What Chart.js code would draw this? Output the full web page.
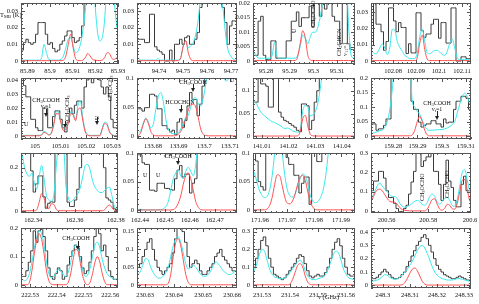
<!DOCTYPE html>
<html><head><meta charset="utf-8">
<script src="https://cdn.jsdelivr.net/npm/chart.js@4.4.1/dist/chart.umd.min.js"></script>
<style>
body{margin:0;background:#fff;width:479px;height:304px;position:relative;overflow:hidden;font-family:"Liberation Serif","DejaVu Serif",serif;color:#111}
canvas{position:absolute}
.t{position:absolute;font-size:6px;line-height:6px;white-space:nowrap}
.r{transform-origin:0 0}
.ar{position:absolute;border-left:1px solid #222;width:0}
.ah{position:absolute;width:0;height:0;border-left:2px solid transparent;border-right:2px solid transparent;border-top:4px solid #222}
sub{font-size:4.5px;vertical-align:-1px;line-height:0}
</style></head><body>
<script>
// ---------- data ----------
const xRange1=[85.8872,85.93],  xTicks1=[85.89,85.9,85.91,85.92,85.93],   yRange1=[-0.0018,0.0347], yTicks1=[0,0.01,0.02,0.03];
const xRange2=[94.7308,94.7725],xTicks2=[94.74,94.75,94.76,94.77],       yRange2=[-0.0018,0.0347], yTicks2=[0,0.01,0.02,0.03];
const xRange3=[95.2745,95.3176],xTicks3=[95.28,95.29,95.3,95.31],        yRange3=[-0.001,0.0201],  yTicks3=[0,0.005,0.01,0.015,0.02];
const xRange4=[102.0704,102.1139],xTicks4=[102.08,102.09,102.1,102.11],  yRange4=[-0.0018,0.0356], yTicks4=[0,0.01,0.02,0.03];
const xRange5=[104.9945,105.0324],xTicks5=[105,105.01,105.02,105.03],    yRange5=[-0.002,0.0414],  yTicks5=[0,0.01,0.02,0.03,0.04];
const xRange6=[133.6738,133.7127],xTicks6=[133.68,133.69,133.7,133.71],  yRange6=[-0.005,0.1],     yTicks6=[0,0.05,0.1];
const xRange7=[141.0067,141.0449],xTicks7=[141.01,141.02,141.03,141.04], yRange7=[-0.006,0.128],   yTicks7=[0,0.05,0.1];
const xRange8=[159.2708,159.3121],xTicks8=[159.28,159.29,159.3,159.31],  yRange8=[-0.01,0.2],      yTicks8=[0,0.05,0.1,0.15,0.2];
const xRange9=[162.3341,162.381],xTicks9=[162.34,162.36,162.38],         yRange9=[-0.01,0.268],    yTicks9=[0,0.1,0.2];
const xRange10=[162.4388,162.4789],xTicks10=[162.44,162.45,162.46,162.47],yRange10=[-0.005,0.1],   yTicks10=[0,0.05,0.1];
const xRange11=[171.9574,171.9952],xTicks11=[171.96,171.97,171.98,171.99],yRange11=[-0.005,0.1],   yTicks11=[0,0.05,0.1];
const xRange12=[200.5525,200.6005],xTicks12=[200.56,200.58,200.6],       yRange12=[-0.01,0.3],     yTicks12=[0,0.1,0.2,0.3];
const xRange13=[222.5266,222.5629],xTicks13=[222.53,222.54,222.55,222.56],yRange13=[-0.0105,0.2],  yTicks13=[0,0.1,0.2];
const xRange14=[230.6272,230.6617],xTicks14=[230.63,230.64,230.65,230.66],yRange14=[-0.008,0.16],  yTicks14=[0,0.05,0.1,0.15];
const xRange15=[231.5268,231.5632],xTicks15=[231.53,231.54,231.55,231.56],yRange15=[-0.017,0.32],  yTicks15=[0,0.1,0.2,0.3];
const xRange16=[248.2956,248.3326],xTicks16=[248.3,248.31,248.32,248.33], yRange16=[-0.02,0.43],   yTicks16=[0,0.1,0.2,0.3,0.4];

// observed spectra (40 channels per window)
const obs1=[.0065,.011,.013,.011,.010,.011,.016,.023,.023,.023,.016,.010,.011,.0075,.0055,.0065,.010,.012,.015,.018,.018,.014,.011,.012,.014,.021,.05,.05,.05,.05,.05,.05,.05,.05,.05,.05,.05,.05,.05,.05];
const cyan1=[.0005,.0005,.0005,.0005,.0005,.0005,.0005,.0005,.002,.010,.005,.0008,.0005,.0005,.0005,.0005,.001,.003,.008,.013,.014,.009,.005,.006,.010,.018,.03,.05,.08,.06,.035,.018,.012,.014,.025,.05,.08,.05,.035,.02];
const red1=[.0002,.0002,.0002,.0002,.0002,.0002,.0002,.0002,.0002,.0002,.0002,.0002,.0002,.0002,.0002,.0002,.0002,.0005,.003,.010,.016,.008,.0015,.0003,.0002,.0005,.002,.0045,.003,.001,.0005,.0003,.0003,.0006,.002,.005,.0045,.0015,.001,.002];

const obs2=[.013,.013,.013,.011,.011,.028,.028,.0085,.0065,.0055,.004,0,0,.0065,0,.010,.010,.013,.010,.014,.015,.010,.010,.013,.017,.032,.05,.05,.05,.05,.05,.05,.05,.05,.032,.023,.010,.021,.024,.024];
const cyan2=[.002,.0005,.0005,.0005,.0005,.0005,.0005,.0005,.0015,.0005,.0005,.0005,.0005,.0005,.0005,.0005,.0005,.002,.009,.012,.008,.009,.011,.016,.025,.04,.06,.06,.06,.06,.06,.06,.06,.04,.03,.015,.006,.003,.001,.0005];
const red2=[.0002,.0002,.0002,.0002,.0002,.0002,.0002,.0002,.0002,.0002,.0002,.0002,.0002,.0002,.0002,.0002,.0002,.002,.009,.0122,.005,.001,.0002,.0002,.0002,.0002,.0002,.0002,.0002,.0002,.0002,.0002,.0002,.0002,.0002,.0002,.0002,.0002,.0002,.0002];

const obs3=[.002,.002,.0138,.0155,.002,.0005,.0005,.007,.007,.001,.001,.001,.001,.007,.007,.0138,.0138,.017,.012,.015,.015,.015,.019,.012,.025,.025,.0155,.025,.018,.025,.025,.0155,.0138,.0138,.006,.025,.025,.006,.004,.004];
const cyan3=[.003,.0015,.001,.001,.001,.001,.001,.002,.0065,.0015,.001,.001,.001,.001,.001,.001,.001,.002,.005,.009,.008,.006,.0085,.010,.010,.012,.016,.022,.03,.03,.03,.022,.02,.025,.03,.03,.03,.012,.002,.001];
const red3=[.0002,.0002,.0002,.0002,.0002,.0002,.0002,.0002,.0002,.0002,.0002,.0002,.0002,.0002,.0002,.0002,.0002,.0015,.006,.0105,.008,.002,.0004,.0002,.0002,.0002,.0002,.0002,.0002,.0002,.0002,.0002,.0002,.0002,.0002,.0002,.0002,.0002,.0002,.0002];

const obs4=[.0096,.05,.0226,.0226,.018,.0066,.012,.0326,.0326,.0246,.018,.0236,.0206,.0206,.0046,.0106,.005,.005,.0296,.0296,.0186,.0146,.0166,.0166,.0226,.0256,.0256,.014,.0236,.0236,.011,.011,.0326,.0326,0,0,.0026,.0026,.0015,.0015];
const cyan4=[.006,.0045,.005,.008,.0105,.008,.004,.008,.0195,.019,.012,.0085,.006,.0035,.0025,.0015,.0015,.0015,.005,.015,.0195,.012,.005,.0045,.0055,.0065,.0066,.0055,.004,.0035,.006,.011,.0135,.008,.002,.001,.001,.001,.001,.001];
const red4=[.0003,.0003,.0003,.0003,.0003,.0003,.0003,.0003,.0003,.0003,.0003,.0003,.0003,.0003,.0003,.0003,.0003,.0003,.002,.011,.016,.007,.0012,.0003,.0003,.0003,.0003,.0003,.0003,.0003,.0003,.0003,.0003,.0003,.0003,.0003,.0003,.0003,.0003,.0003];

const obs5=[.05,.036,.028,.028,.012,.012,.006,.004,.004,.02,.02,.006,.006,.014,.018,.018,.012,.006,.003,.010,.020,.016,.022,.025,.025,.02,.035,.04,.045,.038,.05,.05,.04,.035,.03,.035,.028,.012,.006,.006];
const cyan5=[.0006,.0006,.0006,.0006,.0006,.0006,.0006,.0006,.0012,.0035,.0025,.0012,.0025,.009,.0175,.017,.010,.005,.006,.010,.0175,.016,.012,.022,.025,.013,.004,.0012,.0006,.0006,.0006,.0006,.0006,.006,.010,.009,.0035,.0012,.0006,.0006];
const red5=[.0003,.0003,.0003,.0003,.0003,.0003,.0003,.0003,.0008,.0028,.002,.0008,.002,.008,.016,.016,.009,.004,.005,.009,.016,.015,.011,.019,.020,.011,.003,.0008,.0003,.0003,.0003,.0003,.0003,.005,.009,.008,.003,.0008,.0003,.0003];

const obs6=[.047,.047,.043,.049,.049,.072,.072,.069,.047,.047,.018,.018,.012,.007,.01,.003,.024,.03,.015,.027,.052,.075,.063,.063,.035,.055,.086,.15,.15,.15,.15,.15,.15,.15,.15,.15,.15,.15,.15,.15];
const cyan6=[.005,.01,.022,.031,.025,.014,.02,.045,.068,.075,.06,.03,.012,.006,.004,.004,.006,.012,.022,.032,.036,.05,.064,.066,.056,.052,.065,.09,.12,.15,.15,.15,.15,.15,.11,.095,.098,.12,.15,.15];
const red6=[.001,.006,.02,.03,.022,.008,.002,.0005,.0005,.0005,.0005,.0005,.0005,.0005,.0005,.001,.003,.008,.017,.03,.045,.054,.055,.05,.032,.012,.003,.001,.0005,.0005,.0005,.0005,.0005,.0005,.0005,.0005,.0005,.0005,.0005,.0005];

const obs7=[.075,.075,.15,.115,.115,.11,.064,.064,.15,.15,.053,.042,.035,.032,.028,.024,.02,.013,.01,.071,.071,.067,.015,.035,.075,.1,.15,.15,.15,.15,.15,.15,.15,.15,.15,.15,.15,.15,.15,.15];
const cyan7=[.076,.07,.058,.05,.045,.04,.036,.032,.03,.027,.024,.02,.017,.018,.016,.012,.01,.009,.015,.055,.068,.064,.045,.047,.055,.075,.11,.15,.15,.15,.15,.15,.15,.15,.15,.15,.15,.15,.15,.15];
const red7=[.0005,.0005,.0005,.0005,.0005,.0005,.0005,.0005,.0005,.0005,.0005,.0005,.0005,.0005,.0005,.0005,.0005,.001,.01,.038,.046,.022,.004,.001,.0005,.0005,.0005,.0005,.0005,.0005,.0005,.0005,.0005,.0005,.0005,.0005,.0005,.0005,.0005,.0005];

const obs8=[.042,.042,.02,.025,.025,.037,.059,.059,.25,.25,.25,.25,.25,.25,.25,.25,.12,.092,.092,.048,.031,.037,.042,.042,.053,.053,.042,.042,.031,.059,.045,.048,.048,.092,.12,.12,.137,.137,.13,.092];
const cyan8=[.009,.012,.015,.019,.021,.03,.05,.09,.16,.25,.25,.25,.25,.25,.25,.25,.12,.1,.085,.075,.055,.035,.022,.02,.02,.021,.022,.022,.023,.025,.028,.033,.04,.05,.08,.11,.135,.148,.135,.11];
const red8=[.001,.001,.001,.001,.001,.001,.001,.001,.001,.001,.001,.001,.001,.001,.001,.001,.004,.02,.05,.068,.05,.02,.004,.001,.001,.001,.001,.001,.001,.001,.001,.001,.001,.001,.001,.001,.001,.001,.001,.001];

const obs9=[.3,.3,.3,.3,.185,.087,.125,.162,.162,.065,.012,.035,.042,.04,.3,.3,.3,.3,.3,.04,.02,.02,.05,.1,.2,.3,.3,.3,.3,.3,.3,.3,.3,.3,.2,.06,.05,.04,.01,0];
const cyan9=[.26,.2,.17,.16,.175,.13,.1,.16,.21,.15,.07,.05,.045,.07,.2,.3,.3,.3,.12,.06,.042,.05,.065,.08,.11,.16,.21,.215,.19,.14,.11,.095,.085,.085,.095,.105,.11,.07,.02,.008];
const red9=[.0005,.0005,.0005,.0005,.0005,.0005,.005,.04,.08,.06,.015,.01,.033,.03,.008,.0005,.0005,.0005,.0005,.0005,.0005,.0005,.0005,.0005,.0005,.0005,.0005,.0005,.0005,.0005,.0005,.0005,.0005,.0005,.005,.02,.027,.015,.003,.0005];

const obs10=[.097,.097,.083,.08,.08,.035,.035,.033,.047,.047,.047,.038,.038,.036,.035,.055,.07,.078,.058,.063,.063,.03,.047,.055,.12,.12,.12,.12,.12,.12,.12,.12,.12,.12,.12,.12,.12,.12,.12,.12];
const cyan10=[.001,.0015,.001,.0005,.0005,.0005,.0005,.0005,.0005,.0008,.002,.006,.015,.035,.055,.065,.07,.06,.055,.068,.075,.068,.06,.08,.12,.12,.12,.12,.12,.12,.12,.12,.12,.12,.12,.12,.12,.12,.12,.12];
const red10=[.0003,.0003,.0003,.0003,.0003,.0003,.0003,.0003,.0003,.0003,.0003,.0003,.0003,.0003,.001,.004,.012,.025,.045,.06,.065,.055,.035,.015,.005,.001,.0003,.0003,.0003,.0003,.0003,.0003,.0003,.0003,.0003,.0003,.0003,.0003,.0003,.0003];

const obs11=[.12,.086,.05,.041,.035,.15,.15,.15,.15,.15,.15,.15,.15,.092,.08,.08,.061,.061,.03,.047,.058,.058,.01,.15,.15,.085,.085,.15,.15,.15,.15,.15,.15,.15,.15,.15,.15,.15,.15,.15];
const cyan11=[.066,.05,.035,.026,.022,.024,.035,.06,.1,.15,.15,.1,.06,.035,.025,.023,.028,.042,.056,.063,.06,.045,.025,.016,.013,.015,.022,.035,.06,.1,.15,.15,.15,.15,.15,.15,.15,.15,.15,.15];
const red11=[.0005,.0005,.0005,.0005,.0005,.002,.008,.022,.045,.062,.06,.042,.022,.012,.011,.016,.028,.045,.057,.061,.052,.032,.014,.005,.001,.0005,.0005,.0005,.0005,.0005,.0005,.0005,.0005,.0005,.0005,.0005,.0005,.0005,.0005,.0005];

const obs12=[.105,.155,.155,.205,.205,.17,.105,.07,.07,.04,.013,-.003,-.003,.013,.03,.088,.15,.205,.35,.35,.23,.26,.28,.28,.35,.205,.205,.138,.055,.138,.263,.155,.122,.055,.022,.022,.138,.18,.105,.105];
const cyan12=[.072,.1,.13,.145,.13,.112,.1,.085,.075,.075,.065,.04,.025,.02,.025,.03,.04,.05,.055,.05,.035,.03,.045,.075,.088,.075,.045,.035,.05,.065,.072,.055,.03,.025,.06,.13,.2,.213,.16,.1];
const red12=[.06,.09,.11,.113,.105,.085,.065,.05,.047,.045,.035,.018,.008,.004,.002,.001,.001,.001,.001,.001,.001,.001,.01,.035,.06,.063,.035,.01,.005,.015,.035,.03,.012,.01,.04,.1,.16,.163,.11,.05];

const obs13=[.03,.03,.05,.08,.12,.19,.15,.19,.2,.17,.12,.06,.03,.02,.04,.06,.05,.02,.03,.07,.1,.12,.14,.13,.1,.06,.04,.05,.08,.12,.17,.2,.18,.12,.14,.1,.05,.03,.02,.02];
const cyan13=[.02,.015,.02,.04,.08,.13,.17,.19,.18,.14,.08,.04,.025,.03,.045,.055,.05,.035,.03,.045,.08,.12,.14,.13,.09,.05,.03,.035,.06,.1,.14,.15,.13,.09,.06,.04,.03,.025,.02,.02];
const red13=[.001,.001,.001,.01,.05,.11,.16,.18,.16,.11,.05,.015,.003,.001,.001,.001,.001,.001,.001,.01,.04,.09,.125,.12,.075,.03,.007,.001,.01,.04,.08,.1,.08,.04,.012,.001,.001,.001,.001,.001];

const obs14=[.05,.06,.08,.1,.12,.13,.1,.07,.05,.04,.03,.04,.05,.06,.09,.13,.16,.16,.15,.12,.08,.05,.06,.07,.06,.04,.03,.03,.04,.05,.06,.08,.09,.1,.08,.07,.06,.05,.04,.04];
const cyan14=[.03,.04,.06,.075,.07,.05,.035,.025,.02,.02,.025,.035,.05,.08,.11,.13,.135,.12,.09,.06,.045,.05,.055,.05,.04,.03,.025,.025,.03,.04,.055,.065,.06,.05,.04,.035,.03,.03,.035,.04];
const red14=[.001,.001,.001,.001,.001,.001,.001,.001,.001,.001,.001,.001,.005,.03,.08,.12,.13,.11,.07,.03,.008,.001,.001,.001,.001,.001,.001,.001,.001,.001,.001,.001,.001,.001,.001,.001,.001,.001,.001,.001];

const obs15=[.1,.15,.2,.25,.27,.22,.15,.1,.06,.05,.04,.03,.04,.06,.08,.1,.12,.15,.17,.16,.12,.08,.05,.04,.05,.06,.05,.05,.07,.1,.15,.2,.24,.26,.22,.15,.1,.06,.05,.05];
const cyan15=[.08,.12,.17,.2,.19,.14,.09,.06,.045,.04,.035,.035,.04,.05,.07,.09,.11,.13,.14,.12,.08,.05,.035,.03,.03,.035,.04,.045,.06,.09,.13,.17,.19,.18,.14,.09,.06,.04,.035,.03];
const red15=[.001,.001,.001,.001,.001,.001,.001,.001,.001,.001,.001,.001,.001,.001,.005,.03,.07,.11,.12,.1,.05,.015,.003,.001,.001,.001,.001,.001,.001,.001,.001,.001,.001,.001,.001,.001,.001,.001,.001,.001];

const obs16=[.05,.05,.06,.08,.1,.12,.1,.08,.06,.05,.05,.06,.08,.1,.14,.18,.22,.26,.3,.33,.36,.38,.35,.3,.25,.2,.15,.12,.1,.08,.07,.06,.05,.05,.06,.07,.06,.05,.04,.04];
const cyan16=[.03,.035,.04,.05,.065,.08,.075,.06,.05,.045,.05,.06,.08,.1,.12,.15,.18,.22,.26,.29,.3,.28,.24,.19,.14,.1,.075,.06,.05,.045,.04,.04,.04,.045,.05,.05,.045,.04,.035,.03];
const red16=[.002,.002,.002,.002,.002,.002,.002,.002,.002,.002,.002,.002,.005,.02,.05,.09,.12,.13,.11,.07,.03,.01,.002,.002,.002,.002,.002,.002,.002,.002,.002,.002,.002,.002,.002,.002,.002,.002,.002,.002];

// ---------- layout ----------
const colL=[21,137,253,371], colR=[118,237,355,471];
const rowT=[3,78,153,228], rowB=[64,139,213,288];
const series=[
 [xRange1,xTicks1,yRange1,yTicks1,obs1,cyan1,red1],
 [xRange2,xTicks2,yRange2,yTicks2,obs2,cyan2,red2],
 [xRange3,xTicks3,yRange3,yTicks3,obs3,cyan3,red3],
 [xRange4,xTicks4,yRange4,yTicks4,obs4,cyan4,red4],
 [xRange5,xTicks5,yRange5,yTicks5,obs5,cyan5,red5],
 [xRange6,xTicks6,yRange6,yTicks6,obs6,cyan6,red6],
 [xRange7,xTicks7,yRange7,yTicks7,obs7,cyan7,red7],
 [xRange8,xTicks8,yRange8,yTicks8,obs8,cyan8,red8],
 [xRange9,xTicks9,yRange9,yTicks9,obs9,cyan9,red9],
 [xRange10,xTicks10,yRange10,yTicks10,obs10,cyan10,red10],
 [xRange11,xTicks11,yRange11,yTicks11,obs11,cyan11,red11],
 [xRange12,xTicks12,yRange12,yTicks12,obs12,cyan12,red12],
 [xRange13,xTicks13,yRange13,yTicks13,obs13,cyan13,red13],
 [xRange14,xTicks14,yRange14,yTicks14,obs14,cyan14,red14],
 [xRange15,xTicks15,yRange15,yTicks15,obs15,cyan15,red15],
 [xRange16,xTicks16,yRange16,yTicks16,obs16,cyan16,red16]
];
const PADL=24, PADT=4, PADR=14, PADB=12;
const FONT={family:'"Liberation Serif","DejaVu Serif",serif',size:6.5};

function toPts(range,vals){const n=vals.length;return vals.map((v,i)=>({x:range[0]+(i+0.5)*(range[1]-range[0])/n,y:v}));}
function fmt(v){return String(Number(v.toFixed(5)));}

const framePlugin={id:'frame',afterDatasetsDraw(chart){
  const {ctx,chartArea:a,scales:{x,y}}=chart;
  const o=chart.options.plugins.frame;
  ctx.save();ctx.strokeStyle='#555';ctx.lineWidth=1;
  ctx.strokeRect(Math.round(a.left)+0.5,Math.round(a.top)+0.5,Math.round(a.right-a.left)-1,Math.round(a.bottom-a.top)-1);
  ctx.beginPath();
  const xs=o.xStep, ys=o.yStep;
  for(let k=Math.ceil((x.min)/(xs/5)-1e-6);k*(xs/5)<=x.max+1e-9;k++){
    const v=k*xs/5, px=Math.round(x.getPixelForValue(v))+0.5;
    const major=Math.abs(Math.round(v/xs)*xs-v)<xs*1e-3, L=major?4:2;
    ctx.moveTo(px,a.bottom);ctx.lineTo(px,a.bottom-L);ctx.moveTo(px,a.top);ctx.lineTo(px,a.top+L);
  }
  for(let k=Math.ceil((y.min)/(ys/5)-1e-6);k*(ys/5)<=y.max+1e-9;k++){
    const v=k*ys/5, py=Math.round(y.getPixelForValue(v))+0.5;
    const major=Math.abs(Math.round(v/ys)*ys-v)<ys*1e-3, L=major?4:2;
    ctx.moveTo(a.left,py);ctx.lineTo(a.left+L,py);ctx.moveTo(a.right,py);ctx.lineTo(a.right-L,py);
  }
  ctx.stroke();ctx.restore();
}};

series.forEach((s,i)=>{
  const [xr,xt,yr,yt,ob,cy,rd]=s;
  const c=i%4, r=Math.floor(i/4);
  const w=colR[c]-colL[c], h=rowB[r]-rowT[r];
  const cv=document.createElement('canvas');
  cv.width=w+PADL+PADR; cv.height=h+PADT+PADB;
  cv.style.left=(colL[c]-PADL)+'px'; cv.style.top=(rowT[r]-PADT)+'px';
  document.body.appendChild(cv);
  new Chart(cv,{type:'line',
    data:{datasets:[
      {data:toPts(xr,rd),borderColor:'#ff5050',borderWidth:1,pointRadius:0,cubicInterpolationMode:'monotone',order:1},
      {data:toPts(xr,cy),borderColor:'#38e8ec',borderWidth:1,pointRadius:0,cubicInterpolationMode:'monotone',order:2},
      {data:toPts(xr,ob),borderColor:'#3a3a3a',borderWidth:1,pointRadius:0,stepped:'middle',order:3}
    ]},
    options:{responsive:false,animation:false,events:[],devicePixelRatio:1,
      layout:{padding:{left:0,top:PADT,right:PADR,bottom:0}},
      plugins:{legend:{display:false},tooltip:{enabled:false},frame:{xStep:xt[1]-xt[0],yStep:yt[1]-yt[0]}},
      scales:{
        x:{type:'linear',min:xr[0],max:xr[1],grid:{display:false,drawTicks:false,tickLength:0},border:{display:false},
           afterBuildTicks(sc){sc.ticks=xt.map(v=>({value:v}));},
           afterFit(sc){sc.height=PADB;sc.paddingLeft=0;sc.paddingRight=0;},
           ticks:{font:FONT,color:'#111',padding:3,maxRotation:0,autoSkip:false,callback:v=>fmt(v)}},
        y:{type:'linear',min:yr[0],max:yr[1],grid:{display:false,drawTicks:false,tickLength:0},border:{display:false},
           afterBuildTicks(sc){sc.ticks=yt.map(v=>({value:v}));},
           afterFit(sc){sc.width=PADL;sc.paddingTop=0;sc.paddingBottom=0;},
           ticks:{font:FONT,color:'#111',padding:3,autoSkip:false,callback:v=>fmt(v)}}
      }},
    plugins:[framePlugin]});
});

// ---------- annotations ----------
function txt(x,y,html,rot){const d=document.createElement('div');d.className='t'+(rot?' r':'');d.innerHTML=html;
  d.style.left=x+'px';d.style.top=y+'px';if(rot)d.style.transform='rotate(-90deg)';document.body.appendChild(d);return d;}
function ctxt(x,y,html){const d=txt(x,y,html);d.style.transform='translateX(-50%)';return d;}
function arrow(x,y1,y2){const a=document.createElement('div');a.className='ar';a.style.left=x+'px';a.style.top=y1+'px';a.style.height=(y2-y1-3)+'px';document.body.appendChild(a);
  const h=document.createElement('div');h.className='ah';h.style.left=(x-2)+'px';h.style.top=(y2-4)+'px';document.body.appendChild(h);}
const CH3COOH='CH<sub>3</sub>COOH', VT='v<sub>t</sub>=1';
txt(0,12,'T<sub>MB</sub> (K)').style.fontSize='6.5px';
txt(318,294,'&nu; (GHz)').style.fontSize='6.5px';
// P3
txt(291,33,'U',true); txt(310,28,'CH<sub>3</sub>OCHO',true); txt(336,56,'CH<sub>2</sub>CHCN',true); txt(342,56,'v<sub>11</sub>=1',true);
// P5
txt(24,121,'U'); ctxt(46,97,CH3COOH); ctxt(46,103,VT); arrow(46,109,117);
txt(64,121,'CH<sub>3</sub>OCH<sub>3</sub>',true); arrow(65,121,128);
txt(94,120,'U',true); arrow(97,117,125);
txt(107,101,'CH<sub>3</sub>OCH<sub>3</sub>',true);
// P6
ctxt(180,99,'HCOCHCN'); arrow(181,105,113); ctxt(193,79,CH3COOH); arrow(193,84,92); txt(230,77,'U');
// P8
ctxt(437,100,CH3COOH); ctxt(437,106,VT); arrow(437,111,120);
// P10
txt(143,172,'U'); txt(156,172,'U'); ctxt(178,153,CH3COOH); arrow(178,158,165);
// P12
txt(419,201,'CH<sub>3</sub>OCHO',true); txt(444,198,'CH<sub>3</sub>OCHO',true);
// P13
ctxt(76,235,CH3COOH); arrow(78,241,250);
</script>
</body></html>
